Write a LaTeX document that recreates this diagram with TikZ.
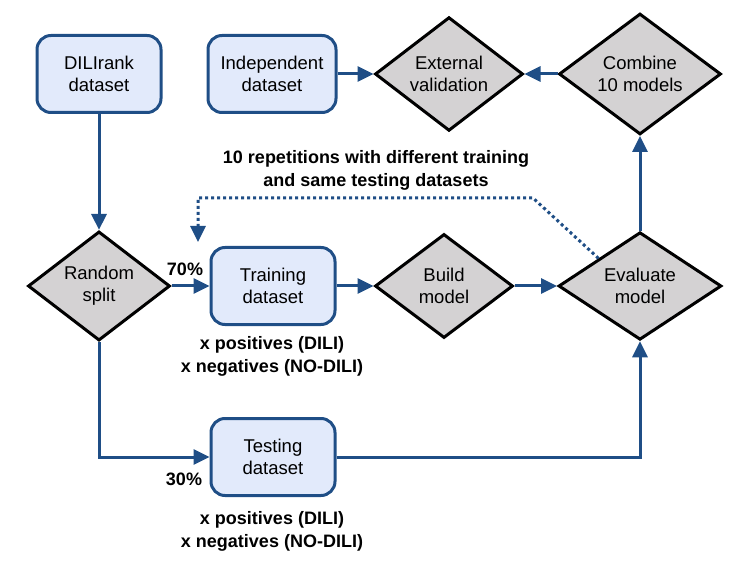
\documentclass[tikz,border=0pt]{standalone}
\usepackage{fontspec}
\setmainfont{Liberation Sans}
\usetikzlibrary{shapes.geometric,arrows.meta}
\definecolor{flowblue}{RGB}{31,78,134}
\definecolor{boxfill}{RGB}{226,234,251}
\definecolor{choicefill}{RGB}{212,210,211}

\begin{document}
\begin{tikzpicture}[x=1pt,y=-1pt,
    font=\fontsize{18.5}{22}\selectfont]
    \useasboundingbox (0,0) rectangle (748,567);

    \begin{scope}[box style/.style={draw=flowblue,
                                    fill=boxfill,
                                    line width=3pt,
                                    rounded corners=14pt,
                                    align=center,
                                    minimum width=124pt,
                                    minimum height=77pt,
                                    inner sep=0pt},
                  choice style/.style={draw=black,
                                    fill=choicefill,
                                    line width=3pt,
                                    diamond,
                                    align=center,
                                    inner sep=0pt}]
      \node[box style] (dili) at (99,74) {DILIrank\\dataset};
      \node[box style, minimum width=128pt] (indep) at (272,74) {Independent\\dataset};
      \node[box style] (train) at (273,286) {Training\\dataset};
      \node[box style] (test) at (273,457) {Testing\\dataset};
      \node[choice style, minimum width=142pt, minimum height=104pt] (split) at (99,286) {Random\\split};
      \node[choice style, minimum width=138pt, minimum height=104pt] (build) at (444,286) {Build\\model};
      \node[choice style, minimum width=163pt, minimum height=104pt] (eval) at (640,286) {Evaluate\\model};
      \node[choice style, minimum width=148pt, minimum height=106pt] (external) at (449,74) {External\\validation};
      \node[choice style, minimum width=162pt, minimum height=106pt] (combine) at (640,74) {Combine\\10 models};
    \end{scope}

    % labels
    \begin{scope}[font=\fontsize{18}{23}\selectfont\bfseries]
      \node (seventy) at (185,269) {70\%};
      \node (thirty) at (184,479) {30\%};
      \node[align=center] (trainnote) at (272,356)
        {x positives (DILI)\\x negatives (NO-DILI)};
      \node[align=center] (testnote) at (272,531)
        {x positives (DILI)\\x negatives (NO-DILI)};
      \node[align=center] (repeat) at (376,170)
        {10 repetitions with different training\\and same testing datasets};
    \end{scope}

    \begin{scope}[flow style/.style={draw=flowblue,
                                     line width=3pt,
                                     -{Triangle[length=16pt,width=15pt]}}]
      \foreach \a/\b in {dili/split, split/train, train/build, build/eval,
                         eval/combine, combine/external, indep/external}{%
        \draw[flow style] (\a) -- (\b);
      }
      \draw[flow style] (split.south) |- (test.west);
      \draw[flow style] (test.east) -| (eval.south);
      \coordinate (bend) at (533,198);
      \coordinate (drop) at (198,198);
      \coordinate (again) at (198,242);
      \draw[flow style, dash pattern=on 3pt off 3pt] (eval.north west) -- (bend) -- (drop) -- (again);
    \end{scope}
\end{tikzpicture}
\end{document}
